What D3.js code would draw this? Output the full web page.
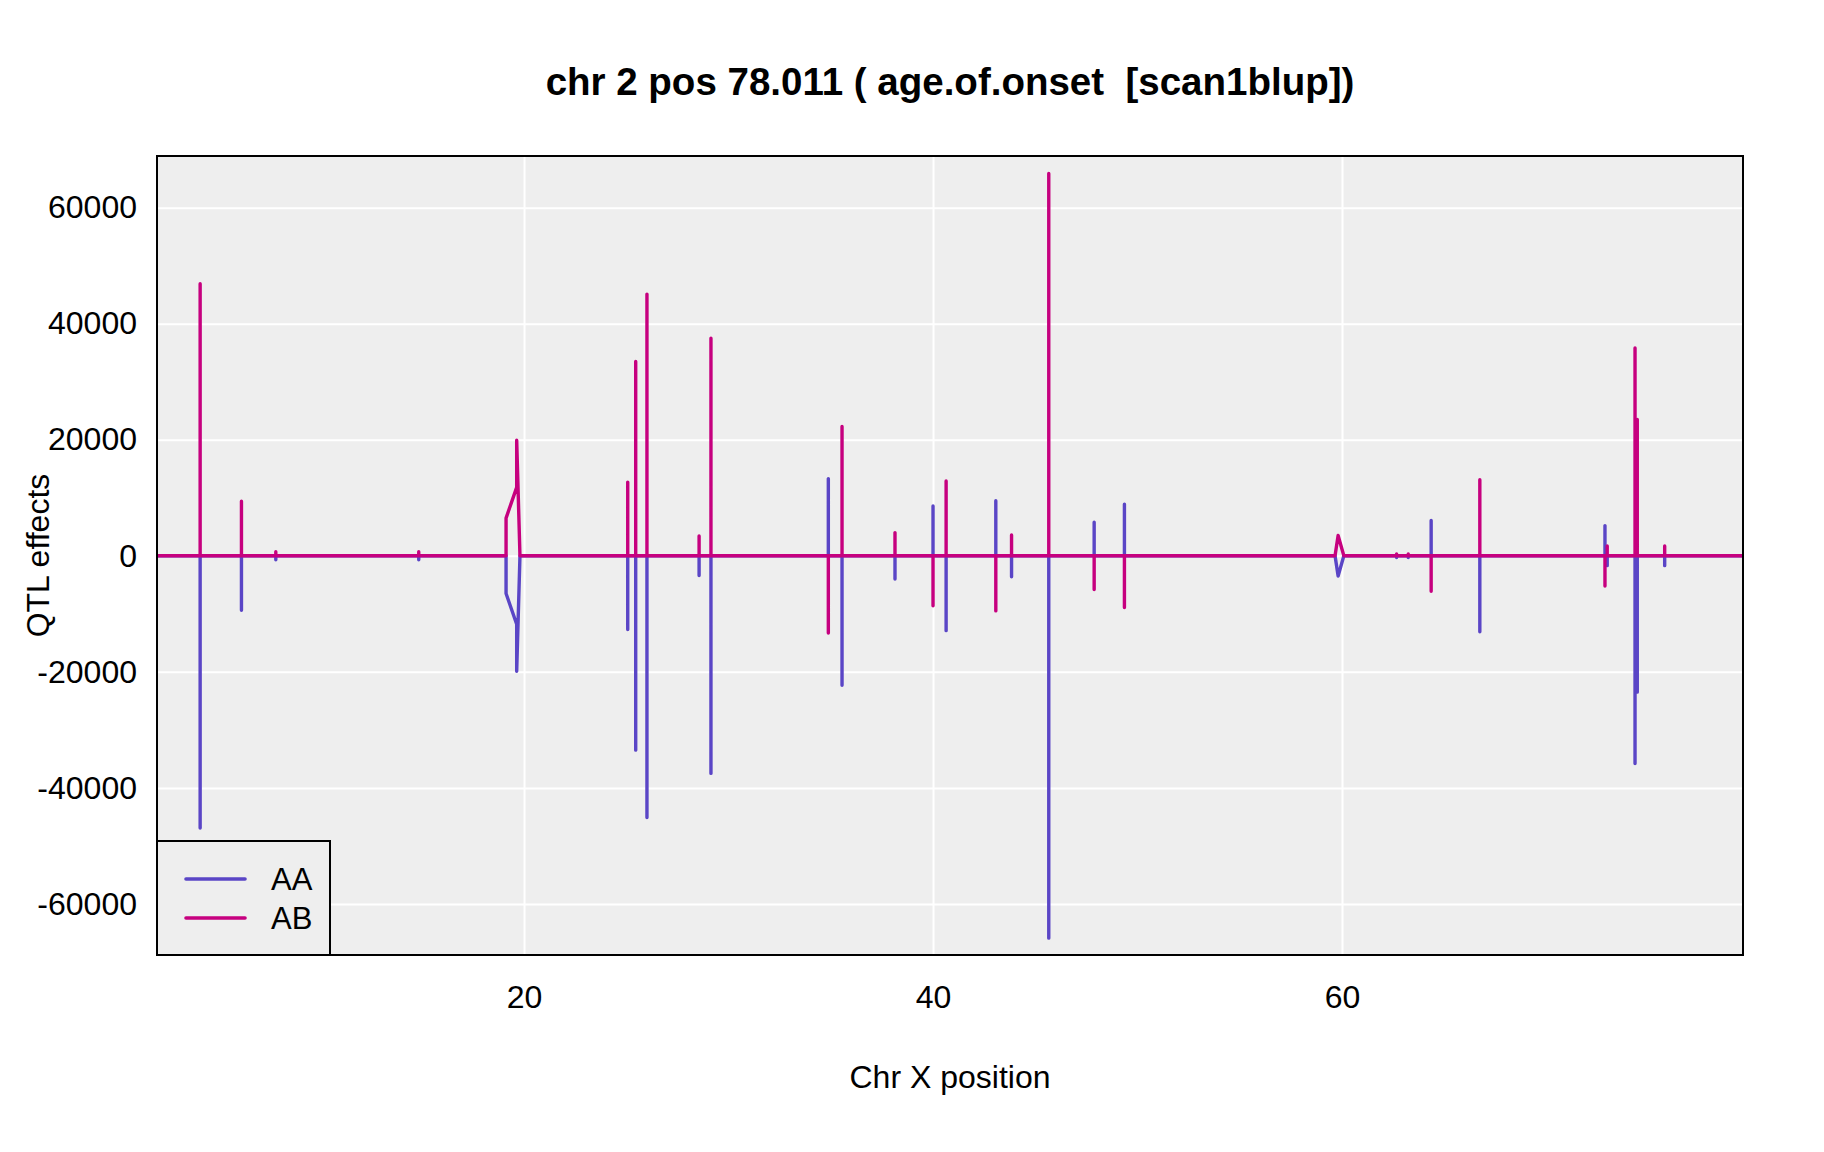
<!DOCTYPE html>
<html>
<head>
<meta charset="utf-8">
<script src="https://cdn.jsdelivr.net/npm/d3@7"></script>
<style>
  body { margin: 0; background: #fff; }
  text { font-family: "Liberation Sans", Arial, sans-serif; }
</style>
</head>
<body>
<div id="chart"></div>
<script>
// marker positions along chr X, each spike listed as 0 -> value -> 0
var pos = [2.05,
  4.16, 4.16, 4.16,
  6.18, 6.18, 6.18,
  7.86, 7.86, 7.86,
  14.85, 14.85, 14.85,
  19.12, 19.12, 19.64, 19.64, 19.80,
  25.07, 25.07, 25.07,
  25.46, 25.46, 25.46,
  26.01, 26.01, 26.01,
  28.56, 28.56, 28.56,
  29.14, 29.14, 29.14,
  34.88, 34.88, 34.88,
  35.55, 35.55, 35.55,
  38.14, 38.14, 38.14,
  40.00, 40.00, 40.00,
  40.64, 40.64, 40.64,
  43.07, 43.07, 43.07,
  43.84, 43.84, 43.84,
  45.66, 45.66, 45.66,
  47.88, 47.88, 47.88,
  49.36, 49.36, 49.36,
  59.66, 59.81, 60.09,
  62.67, 62.67, 62.67,
  63.24, 63.24, 63.24,
  64.36, 64.36, 64.36,
  66.74, 66.74, 66.74,
  72.86, 72.86, 72.86,
  72.97, 72.97, 72.97,
  74.33, 74.33, 74.33,
  74.44, 74.44, 74.44,
  75.78, 75.78, 75.78,
  79.61];

var effAA = [0,
  0, -46900, 0,
  0, -9400, 0,
  0, -700, 0,
  0, -700, 0,
  0, -6500, -11800, -19900, 0,
  0, -12700, 0,
  0, -33500, 0,
  0, -45100, 0,
  0, -3400, 0,
  0, -37500, 0,
  0, 13300, 0,
  0, -22300, 0,
  0, -4000, 0,
  0, 8600, 0,
  0, -12900, 0,
  0, 9500, 0,
  0, -3600, 0,
  0, -65900, 0,
  0, 5800, 0,
  0, 8900, 0,
  0, -3500, 0,
  0, -300, 0,
  0, -300, 0,
  0, 6100, 0,
  0, -13100, 0,
  0, 5200, 0,
  0, -1700, 0,
  0, -35800, 0,
  0, -23500, 0,
  0, -1700, 0,
  0];

var effAB = [0,
  0, 46900, 0,
  0, 9400, 0,
  0, 700, 0,
  0, 700, 0,
  0, 6500, 11800, 19900, 0,
  0, 12700, 0,
  0, 33500, 0,
  0, 45100, 0,
  0, 3400, 0,
  0, 37500, 0,
  0, -13300, 0,
  0, 22300, 0,
  0, 4000, 0,
  0, -8600, 0,
  0, 12900, 0,
  0, -9500, 0,
  0, 3600, 0,
  0, 65900, 0,
  0, -5800, 0,
  0, -8900, 0,
  0, 3500, 0,
  0, 300, 0,
  0, 300, 0,
  0, -6100, 0,
  0, 13100, 0,
  0, -5200, 0,
  0, 1700, 0,
  0, 35800, 0,
  0, 23500, 0,
  0, 1700, 0,
  0];

var genotypes = ['AA', 'AB'];
var colors = ['#5a45c6', '#c6007f'];
var xTicks = [20, 40, 60];
var yTicks = [-60000, -40000, -20000, 0, 20000, 40000, 60000];

(function () {
  'use strict';

  var W = 1824, H = 1152,
    pL = 157, pR = 1743, pT = 156, pB = 955;

  var svg = d3.select('#chart').append('svg')
    .attr('width', W)
    .attr('height', H);

  var x = d3.scaleLinear().domain([2.05, 79.61]).range([pL, pR]);
  var y = d3.scaleLinear().domain([-68800, 68900]).range([pB, pT]);

  svg.append('rect')
    .attr('x', pL).attr('y', pT)
    .attr('width', pR - pL).attr('height', pB - pT)
    .attr('fill', '#eeeeee');

  // grid
  svg.append('g')
    .attr('transform', 'translate(0,' + pB + ')')
    .call(d3.axisBottom(x).tickValues(xTicks).tickSize(-(pB - pT)).tickFormat(''))
    .call(function(g){ g.select('.domain').remove(); })
    .selectAll('line').attr('stroke', '#ffffff').attr('stroke-width', 2);

  svg.append('g')
    .attr('transform', 'translate(' + pL + ',0)')
    .call(d3.axisLeft(y).tickValues(yTicks).tickSize(-(pR - pL)).tickFormat(''))
    .call(function(g){ g.select('.domain').remove(); })
    .selectAll('line').attr('stroke', '#ffffff').attr('stroke-width', 2);

  // tick labels (plain hyphen for negatives, like R)
  var xAxis = svg.append('g')
    .attr('transform', 'translate(0,' + pB + ')')
    .call(d3.axisBottom(x).tickValues(xTicks).tickSize(0).tickPadding(30));
  var yAxis = svg.append('g')
    .attr('transform', 'translate(' + pL + ',0)')
    .call(d3.axisLeft(y).tickValues(yTicks).tickSize(0).tickPadding(20)
      .tickFormat(function(d){ return String(d); }));
  [xAxis, yAxis].forEach(function(g){
    g.select('.domain').remove();
    g.selectAll('text')
      .attr('fill', '#000')
      .style('font-size', '32px')
      .style('font-family', '"Liberation Sans", Arial, sans-serif');
  });

  svg.append('clipPath').attr('id', 'clip')
    .append('rect')
    .attr('x', pL).attr('y', pT)
    .attr('width', pR - pL).attr('height', pB - pT);

  var series = [effAA, effAB];
  series.forEach(function(vals, k){
    var line = d3.line()
      .x(function(d, i){ return x(pos[i]); })
      .y(function(d){ return y(d); });
    svg.append('path')
      .datum(vals)
      .attr('clip-path', 'url(#clip)')
      .attr('d', line)
      .attr('fill', 'none')
      .attr('stroke', colors[k])
      .attr('stroke-width', 3.4)
      .attr('stroke-linejoin', 'round')
      .attr('stroke-linecap', 'round');
  });

  // legend
  var lg = svg.append('g');
  lg.append('rect')
    .attr('x', pL).attr('y', 841)
    .attr('width', 330 - pL).attr('height', pB - 841)
    .attr('fill', '#eeeeee')
    .attr('stroke', '#000')
    .attr('stroke-width', 2);
  genotypes.forEach(function(g, i){
    var ly = 879 + i * 39;
    lg.append('line')
      .attr('x1', 186).attr('x2', 245)
      .attr('y1', ly).attr('y2', ly)
      .attr('stroke', colors[i])
      .attr('stroke-width', 3.6)
      .attr('stroke-linecap', 'round');
    lg.append('text')
      .attr('x', 271).attr('y', ly + 11)
      .style('font-size', '31px')
      .text(g);
  });

  // frame
  svg.append('rect')
    .attr('x', pL).attr('y', pT)
    .attr('width', pR - pL).attr('height', pB - pT)
    .attr('fill', 'none')
    .attr('stroke', '#000')
    .attr('stroke-width', 2);

  svg.append('text')
    .attr('x', (pL + pR) / 2).attr('y', 95)
    .attr('text-anchor', 'middle')
    .style('font-size', '38.5px')
    .style('font-weight', 'bold')
    .style('white-space', 'pre')
    .text('chr 2 pos 78.011 ( age.of.onset  [scan1blup])');

  svg.append('text')
    .attr('x', (pL + pR) / 2).attr('y', 1088)
    .attr('text-anchor', 'middle')
    .style('font-size', '32px')
    .text('Chr X position');

  svg.append('text')
    .attr('transform', 'translate(49,' + ((pT + pB) / 2) + ') rotate(-90)')
    .attr('text-anchor', 'middle')
    .style('font-size', '32px')
    .text('QTL effects');
})();
</script>
</body>
</html>
